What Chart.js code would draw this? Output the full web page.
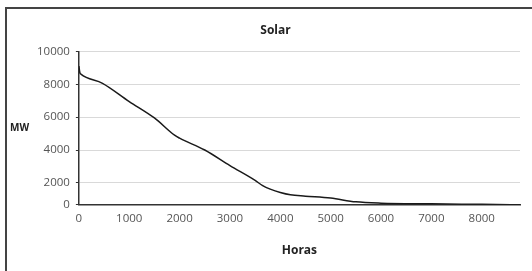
<!DOCTYPE html>
<html>
<head>
<meta charset="utf-8">
<script src="https://cdn.jsdelivr.net/npm/chart.js@4"></script>
<style>
  html, body { margin: 0; padding: 0; background: #fff; }
  #wrap { width: 532px; height: 271px; position: relative; }
</style>
</head>
<body>
<div id="wrap"><canvas id="solarCanvas" width="532" height="271"></canvas></div>
<script>
// Solar load-duration curve (hours sorted by output)
const hours = [0, 20, 40, 470, 1000, 1500, 1900, 2000, 2500, 3000, 3500, 3650, 3800, 4000, 4200, 4500, 5000, 5500, 6000, 7000, 8000, 8760];
const mw    = [9100, 8700, 8620, 8060, 6950, 5950, 4900, 4720, 4000, 3050, 2150, 1750, 1430, 1120, 910, 790, 610, 270, 150, 90, 40, 0];
const yTicks = [0, 2000, 4000, 6000, 8000, 10000];
const xTicks = [0, 1000, 2000, 3000, 4000, 5000, 6000, 7000, 8000];

const FONT = "'Open Sans', 'Lato', sans-serif";

// the source axis squeezes the 0-2000 band to 2/3 of the other bands
const squeeze = v => v < 2000 ? v * 2 / 3 : v - 2000 / 3;
const unsqueeze = t => t < 4000 / 3 ? t * 3 / 2 : t + 2000 / 3;

class SqueezedLinear extends Chart.LinearScale {
    getPixelForValue(value) {
        if (value === null || value === undefined) return NaN;
        const lo = squeeze(this.min), hi = squeeze(this.max);
        return this.getPixelForDecimal((squeeze(value) - lo) / (hi - lo));
    }
    getValueForPixel(pixel) {
        const lo = squeeze(this.min), hi = squeeze(this.max);
        return unsqueeze(lo + this.getDecimalForPixel(pixel) * (hi - lo));
    }
}
SqueezedLinear.id = 'squeezedLinear';
SqueezedLinear.defaults = Chart.LinearScale.defaults;
Chart.register(SqueezedLinear);

const frame = {
    id: 'frame',
    afterDraw(chart) {
        const ctx = chart.ctx;
        ctx.save();
        ctx.strokeStyle = '#444';
        ctx.lineWidth = 2;
        ctx.beginPath();
        ctx.moveTo(6, 280);
        ctx.lineTo(6, 8);
        ctx.lineTo(540, 8);
        ctx.stroke();
        // horizontal y-axis title
        ctx.fillStyle = '#222';
        ctx.font = "bold 10px " + FONT;
        ctx.textAlign = 'left';
        ctx.textBaseline = 'middle';
        ctx.fillText('MW', 10, 128);
        ctx.restore();
    }
};

const plain = v => String(v);

new Chart(document.getElementById('solarCanvas'), {
    type: 'line',
    data: {
        datasets: [{
            data: hours.map((h, i) => ({ x: h, y: mw[i] })),
            borderColor: '#1a1a1a',
            borderWidth: 1.5,
            pointRadius: 0,
            cubicInterpolationMode: 'monotone',
            fill: false
        }]
    },
    options: {
        responsive: false,
        animation: false,
        layout: { padding: { left: 31, right: 12, top: 16, bottom: 13 } },
        plugins: {
            legend: { display: false },
            tooltip: { enabled: false },
            title: {
                display: true,
                text: 'Solar',
                color: '#222',
                font: { family: FONT, size: 12, weight: 'bold' },
                padding: { top: 7, bottom: 14 }
            }
        },
        scales: {
            x: {
                type: 'linear',
                min: 0,
                max: 8760,
                afterBuildTicks: s => { s.ticks = xTicks.map(v => ({ value: v })); },
                ticks: { color: '#555', font: { family: FONT, size: 11.5 }, padding: 4, maxRotation: 0, callback: plain },
                grid: { display: false, drawOnChartArea: false, drawTicks: true, tickLength: 3, tickColor: '#333' },
                border: { display: true, color: '#333', width: 1.5 },
                title: {
                    display: true,
                    text: 'Horas',
                    color: '#222',
                    font: { family: FONT, size: 12, weight: 'bold' },
                    padding: { top: 14, bottom: 0 }
                }
            },
            y: {
                type: 'squeezedLinear',
                min: 0,
                max: 10000,
                afterBuildTicks: s => { s.ticks = yTicks.map(v => ({ value: v })); },
                ticks: { color: '#555', font: { family: FONT, size: 11.5 }, padding: 6, callback: plain },
                grid: { color: '#d9d9d9', lineWidth: 1, tickLength: 3, tickColor: '#333' },
                border: { display: true, color: '#333', width: 1.5 }
            }
        }
    },
    plugins: [frame]
});
</script>
</body>
</html>
